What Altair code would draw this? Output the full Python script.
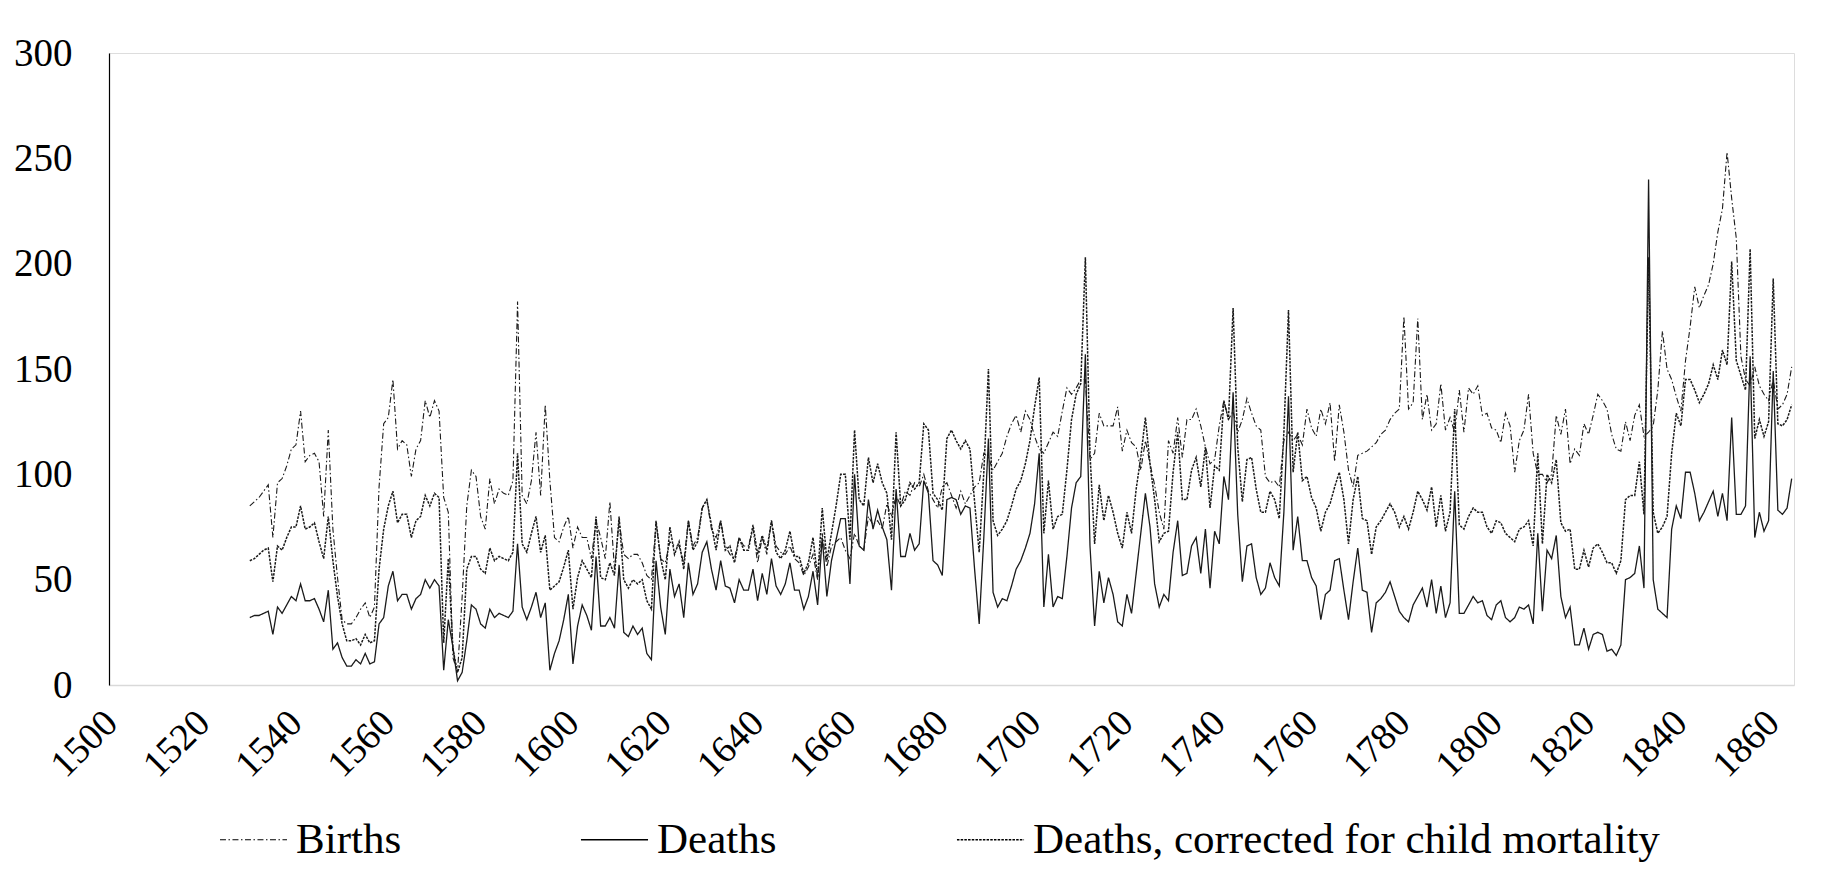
import altair as alt
import pandas as pd

years = list(range(1530, 1865))

births = [
    85, 87, 89, 92, 95, 70, 96, 98, 104, 112,
    114, 130, 106, 109, 110, 106, 80, 121, 74, 51,
    31, 29, 29, 32, 36, 39, 32, 37, 94, 124,
    127, 145, 112, 116, 114, 99, 112, 116, 135, 127,
    135, 130, 89, 82, 13, 6, 42, 85, 102, 99,
    80, 74, 98, 86, 93, 91, 90, 97, 182, 90,
    86, 97, 120, 90, 133, 97, 70, 68, 75, 80,
    65, 75, 70, 70, 60, 78, 70, 60, 87, 55,
    78, 62, 60, 62, 62, 58, 52, 50, 77, 60,
    58, 68, 66, 66, 58, 78, 66, 70, 84, 88,
    74, 70, 78, 66, 62, 60, 70, 66, 66, 74,
    58, 70, 62, 78, 66, 63, 62, 66, 60, 58,
    52, 56, 62, 50, 72, 56, 66, 68, 70, 64,
    60, 72, 66, 64, 80, 76, 78, 74, 86, 80,
    90, 85, 92, 90, 96, 94, 100, 92, 88, 84,
    94, 96, 90, 84, 92, 86, 90, 94, 96, 110,
    108, 102, 106, 110, 118, 124, 128, 120, 130, 126,
    118, 112, 110, 115, 120, 118, 130, 141, 138, 141,
    145, 145, 107, 110, 129, 123, 123, 123, 132, 111,
    121, 115, 113, 102, 116, 105, 95, 82, 74, 116,
    110, 127, 108, 126, 126, 131, 123, 113, 105, 107,
    123, 135, 126, 130, 120, 126, 136, 129, 123, 121,
    99, 96, 97, 94, 116, 120, 116, 119, 114, 131,
    122, 118, 131, 124, 134, 106, 133, 120, 102, 94,
    109, 110, 111, 113, 115, 119, 121, 126, 129, 131,
    175, 131, 134, 174, 126, 138, 121, 124, 143, 121,
    127, 120, 140, 120, 141, 138, 142, 128, 129, 122,
    121, 115, 129, 123, 101, 116, 121, 138, 110, 100,
    100, 96, 100, 128, 119, 131, 105, 112, 109, 124,
    119, 128, 138, 135, 131, 119, 112, 111, 125, 116,
    128, 133, 118, 120, 123, 140, 168, 150, 145, 137,
    130, 154, 170, 189, 179, 185, 190, 200, 215, 226,
    253, 231, 212, 156, 145, 142, 151, 142, 138, 135,
    145, 131, 133, 138, 151,
]

deaths = [
    32, 33, 33, 34, 35, 24, 37, 34, 38, 42,
    40, 48, 40, 40, 41, 36, 30, 45, 17, 20,
    13, 9, 9, 12, 10, 15, 10, 11, 29, 32,
    47, 54, 40, 43, 43, 36, 41, 43, 50, 46,
    50, 47, 7, 31, 18, 2, 6, 21, 38, 36,
    29, 27, 36, 32, 34, 33, 32, 35, 67, 37,
    31, 37, 44, 32, 39, 7, 15, 21, 31, 43,
    10, 28, 38, 33, 26, 61, 28, 28, 32, 27,
    57, 25, 23, 28, 24, 27, 15, 12, 59, 37,
    24, 55, 42, 48, 32, 58, 43, 48, 63, 68,
    55, 45, 59, 47, 46, 39, 50, 45, 45, 55,
    40, 53, 43, 60, 47, 43, 48, 58, 45, 45,
    36, 42, 54, 38, 70, 42, 59, 69, 79, 79,
    48, 100, 66, 64, 88, 74, 83, 75, 69, 45,
    93, 61, 61, 72, 64, 67, 97, 91, 59, 57,
    52, 88, 89, 88, 81, 85, 84, 55, 29, 70,
    117, 44, 37, 41, 40, 47, 55, 59, 65, 72,
    86, 110, 37, 62, 37, 42, 41, 61, 84, 96,
    99, 157, 66, 28, 54, 39, 51, 43, 30, 28,
    43, 34, 53, 72, 91, 75, 48, 37, 43, 40,
    63, 78, 52, 53, 66, 70, 53, 74, 46, 73,
    67, 99, 88, 139, 81, 49, 66, 67, 51, 43,
    46, 58, 51, 47, 82, 137, 64, 80, 59, 59,
    51, 47, 31, 43, 45, 59, 60, 45, 31, 49,
    65, 45, 44, 25, 39, 41, 44, 49, 42, 35,
    32, 30, 38, 42, 46, 37, 50, 34, 47, 32,
    39, 92, 34, 34, 38, 42, 39, 40, 33, 31,
    38, 40, 32, 30, 32, 37, 36, 38, 29, 72,
    35, 64, 60, 71, 42, 32, 37, 19, 19, 27,
    17, 24, 25, 24, 16, 17, 14, 19, 50, 51,
    53, 66, 46, 240, 50, 36, 34, 32, 74, 85,
    79, 101, 101, 91, 78, 82, 87, 92, 80, 91,
    78, 127, 81, 81, 85, 156, 70, 82, 73, 78,
    149, 83, 81, 84, 98,
]

corrected = [
    59, 60, 62, 64, 65, 49, 66, 64, 70, 75,
    75, 85, 74, 75, 77, 68, 60, 80, 59, 42,
    29, 21, 21, 22, 19, 24, 20, 21, 55, 74,
    85, 92, 77, 81, 81, 70, 78, 80, 90, 85,
    91, 89, 20, 60, 17, 6, 13, 55, 61, 61,
    55, 53, 65, 59, 61, 60, 59, 63, 110, 67,
    63, 72, 80, 63, 71, 45, 47, 49, 56, 64,
    36, 51, 59, 55, 51, 80, 51, 50, 58, 52,
    80, 50, 46, 50, 48, 50, 40, 36, 78, 60,
    50, 75, 62, 68, 55, 78, 64, 68, 84, 88,
    76, 64, 78, 64, 66, 58, 70, 64, 64, 76,
    62, 71, 64, 78, 63, 60, 64, 73, 61, 61,
    53, 58, 70, 51, 84, 59, 72, 85, 100, 100,
    69, 121, 88, 85, 108, 96, 105, 96, 91, 69,
    120, 85, 88, 96, 93, 96, 124, 121, 91, 88,
    83, 117, 121, 116, 112, 116, 112, 87, 63, 101,
    150, 78, 71, 74, 78, 85, 93, 97, 105, 116,
    132, 146, 72, 97, 74, 80, 81, 102, 126, 138,
    143, 203, 110, 67, 95, 78, 90, 82, 72, 65,
    82, 72, 93, 108, 127, 105, 88, 68, 72, 73,
    101, 120, 88, 88, 102, 108, 94, 113, 84, 104,
    102, 135, 126, 179, 113, 87, 107, 108, 93, 82,
    82, 92, 88, 79, 120, 178, 101, 120, 97, 99,
    89, 84, 73, 82, 86, 94, 101, 88, 67, 88,
    99, 79, 78, 62, 75, 78, 82, 86, 82, 75,
    80, 74, 82, 92, 88, 83, 94, 75, 90, 73,
    82, 131, 76, 74, 80, 84, 82, 82, 75, 72,
    78, 77, 72, 70, 68, 74, 75, 78, 66, 110,
    67, 100, 96, 107, 77, 73, 74, 55, 55, 64,
    56, 65, 67, 63, 58, 58, 53, 59, 88, 90,
    90, 106, 81, 203, 82, 72, 75, 80, 110, 129,
    123, 145, 145, 140, 134, 138, 143, 152, 145, 159,
    152, 201, 154, 147, 140, 207, 117, 126, 118, 125,
    193, 124, 123, 126, 133,
]

series_names = ["Births", "Deaths", "Deaths, corrected for child mortality"]
x_ticks = list(range(1500, 1861, 20))
y_ticks = [0, 50, 100, 150, 200, 250, 300]

rows = []
for name, vals in zip(series_names, [births, deaths, corrected]):
    for yr, v in zip(years, vals):
        rows.append({"year": yr, "value": v, "series": name})
df = pd.DataFrame(rows)

FONT = "Liberation Serif"

chart = alt.Chart(df).mark_line(interpolate="linear").encode(
    x=alt.X("year:Q",
            scale=alt.Scale(domain=[1499.5, 1864.5], nice=False, zero=False),
            axis=alt.Axis(values=x_ticks, format="d", labelAngle=-45, title=None,
                          grid=False, ticks=False, domainColor="#d9d9d9", domainWidth=1.5,
                          labelFont=FONT, labelFontSize=38, labelColor="#000000",
                          labelPadding=32, labelAlign="right", labelBaseline="middle")),
    y=alt.Y("value:Q",
            scale=alt.Scale(domain=[0, 300], nice=False),
            axis=alt.Axis(values=y_ticks, title=None, grid=False, ticks=False,
                          domainColor="#000000", domainWidth=1.2,
                          labelFont=FONT, labelFontSize=39, labelColor="#000000",
                          labelPadding=37)),
    strokeDash=alt.StrokeDash("series:N",
            scale=alt.Scale(domain=series_names, range=[[6, 2.5, 1.5, 2.5], [1, 0], [2.5, 1.2]]),
            legend=alt.Legend(title=None, orient="none", legendX=110, legendY=752,
                              direction="horizontal", symbolType="stroke", symbolSize=4500,
                              symbolStrokeWidth=1.3, symbolStrokeColor="#000000",
                              labelFont=FONT, labelFontSize=43, labelColor="#000000",
                              labelOffset=8, columnPadding=176, labelLimit=900)),
    strokeWidth=alt.StrokeWidth("series:N",
            scale=alt.Scale(domain=series_names, range=[1.1, 1.5, 1.3]), legend=None),
    color=alt.value("#1a1a1a"),
).properties(
    width=1685,
    height=632,
    autosize=alt.AutoSizeParams(type="none"),
    padding={"left": 101, "top": 45, "right": 40, "bottom": 185},
).configure_view(stroke=None).configure(background="#ffffff")

chart.save("out.html", embed_options={"renderer": "svg", "actions": False})
